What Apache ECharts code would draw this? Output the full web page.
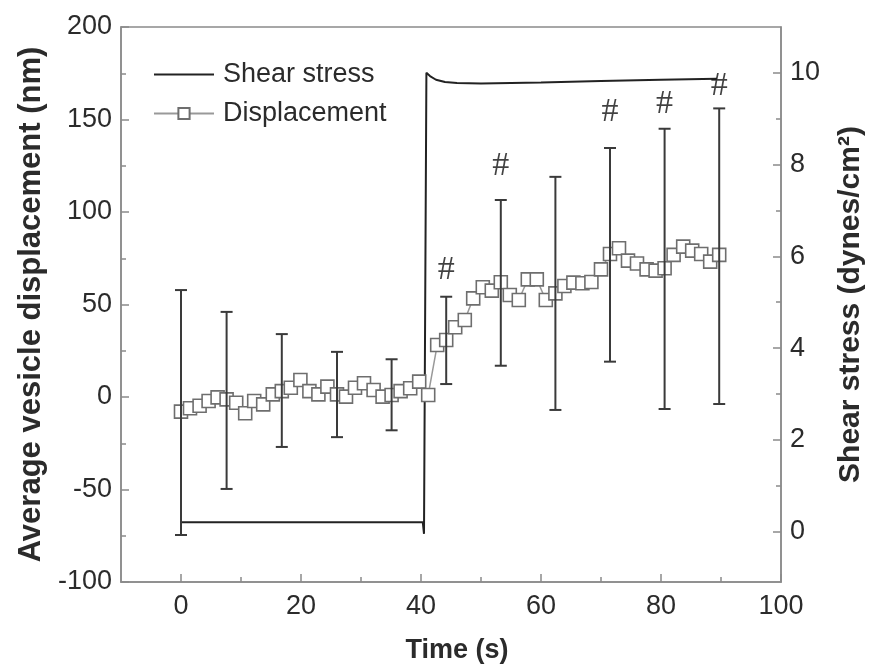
<!DOCTYPE html>
<html>
<head>
<meta charset="utf-8">
<script src="https://cdn.jsdelivr.net/npm/echarts@6/dist/echarts.min.js"></script>
<style>html,body{margin:0;padding:0;background:#fff;}#chart{width:872px;height:671px;}</style>
</head>
<body>
<div id="chart"></div>
<script>
// ---- data ----
const dispTimes = [0, 1.5, 3.1, 4.6, 6.1, 7.6, 9.2, 10.7, 12.2, 13.7, 15.3, 16.8, 18.3, 19.9, 21.4, 22.9, 24.4, 26.0, 27.5, 29.0, 30.5, 32.1, 33.6, 35.1, 36.6, 38.2, 39.7, 41.2,
  42.7, 44.2, 45.7, 47.3, 48.7, 50.3, 51.8, 53.3, 54.8, 56.3, 57.8, 59.3, 60.8, 62.4, 63.9, 65.4, 66.9, 68.4, 70.0, 71.5, 73.0, 74.5, 76.0, 77.6, 79.1, 80.6, 82.1, 83.7, 85.2, 86.7, 88.2, 89.7];
const displacement = [-7.9, -6.1, -4.7, -2.2, -0.2, -1.3, -3.1, -8.8, -2.2, -4.0, 1.4, 3.2, 5.0, 9.2, 3.2, 1.4, 5.6, 1.4, 0.2, 5.0, 7.4, 3.8, 0.2, 1.1, 3.2, 4.7, 8.3, 1.1,
  28.1, 30.8, 37.7, 41.6, 53.3, 59.3, 57.5, 62.0, 55.1, 52.4, 63.6, 63.6, 52.4, 56.0, 60.0, 61.8, 61.5, 62.2, 69.0, 77.3, 80.4, 73.7, 72.2, 69.0, 68.3, 69.6, 76.8, 81.3, 79.1, 77.3, 73.2, 76.8];
const errTimes = [0, 7.6, 16.8, 26.0, 35.1, 44.2, 53.3, 62.4, 71.5, 80.6, 89.7];
const errHigh = [57.8, 46, 34, 24.4, 20.4, 54.2, 106.5, 119, 134.6, 145, 156];
const errLow = [-74.6, -49.7, -27, -21.7, -18, 7, 16.9, -7, 19.1, -6.5, -3.8];
const stressTimes = [0, 40.3, 40.5, 40.9, 41.5, 42.5, 44, 46, 50, 60, 70, 80, 89.3];
const stressValues = [0.2, 0.2, -0.05, 10.0, 9.93, 9.85, 9.8, 9.78, 9.77, 9.79, 9.82, 9.85, 9.87];
const hashTimes = [44.2, 53.3, 71.5, 80.6, 89.7];
const hashLevels = [68.6, 124.9, 154, 158.4, 168.1];
const xMajorTicks = [0, 20, 40, 60, 80, 100];
const xMinorTicks = [10, 30, 50, 70, 90];
const rightMajorTicks = [0, 2, 4, 6, 8, 10];
const rightMinorTicks = [1, 3, 5, 7, 9];

// ---- chart ----
const FONT = 'Arial, "Liberation Sans", sans-serif';
const AXIS_COLOR = '#8a8a8a';
const TEXT_COLOR = '#2b2b2b';
const chart = echarts.init(document.getElementById('chart'));

const dispData = dispTimes.map((t, i) => [t, displacement[i]]);
const errData = errTimes.map((t, i) => [t, errLow[i], errHigh[i]]);
const stressData = stressTimes.map((t, i) => [t, stressValues[i]]);
const hashData = hashTimes.map((t, i) => [t, hashLevels[i]]);

const option = {
  backgroundColor: '#fff',
  animation: false,
  grid: { left: 121, right: 91, top: 27, bottom: 89, show: true, borderColor: AXIS_COLOR, borderWidth: 1.5, outerBoundsMode: 'none', containLabel: false },
  legend: {
    orient: 'vertical', left: 153, top: 60, padding: 0,
    itemWidth: 60, itemHeight: 14, itemGap: 10,
    textStyle: { fontFamily: FONT, fontSize: 27, color: TEXT_COLOR, lineHeight: 29, padding: [0, 0, 0, 4] },
    data: [{ name: 'Shear stress', itemStyle: { opacity: 0 } }, 'Displacement']
  },
  xAxis: [{
    type: 'value', min: -10, max: 100, position: 'bottom',
    name: 'Time (s)', nameLocation: 'middle', nameGap: 55,
    nameTextStyle: { fontFamily: FONT, fontSize: 27, fontWeight: 'bold', color: TEXT_COLOR, padding: [0, 0, 0, 12] },
    axisLine: { show: true, onZero: false, lineStyle: { color: AXIS_COLOR, width: 1.5 } },
    axisTick: { show: true, inside: true, length: 8, customValues: xMajorTicks, lineStyle: { color: AXIS_COLOR, width: 1.5 } },
    axisLabel: { customValues: xMajorTicks, fontFamily: FONT, fontSize: 27, color: TEXT_COLOR, margin: 11 },
    splitLine: { show: false }
  }, {
    type: 'value', min: -10, max: 100, position: 'bottom',
    axisLine: { show: false, onZero: false },
    axisTick: { show: true, inside: true, length: 5, customValues: xMinorTicks, lineStyle: { color: AXIS_COLOR, width: 1.5 } },
    axisLabel: { show: false }, splitLine: { show: false }
  }],
  yAxis: [{
    type: 'value', min: -100, max: 200, interval: 50, position: 'left',
    name: 'Average vesicle displacement (nm)', nameLocation: 'middle', nameGap: 73,
    nameTextStyle: { fontFamily: FONT, fontSize: 31, fontWeight: 'bold', color: TEXT_COLOR },
    axisLine: { show: true, onZero: false, lineStyle: { color: AXIS_COLOR, width: 1.5 } },
    axisTick: { show: true, inside: true, length: 8, lineStyle: { color: AXIS_COLOR, width: 1.5 } },
    minorTick: { show: true, splitNumber: 2, length: 5, lineStyle: { color: AXIS_COLOR, width: 1.5 } },
    axisLabel: { fontFamily: FONT, fontSize: 27, color: TEXT_COLOR, margin: 9 },
    splitLine: { show: false }
  }, {
    type: 'value', min: -1.1, max: 11, position: 'right',
    name: 'Shear stress (dynes/cm²)', nameLocation: 'middle', nameGap: 55,
    nameTextStyle: { fontFamily: FONT, fontSize: 30, fontWeight: 'bold', color: TEXT_COLOR },
    axisLine: { show: true, onZero: false, lineStyle: { color: AXIS_COLOR, width: 1.5 } },
    axisTick: { show: true, inside: true, length: 8, customValues: rightMajorTicks, lineStyle: { color: AXIS_COLOR, width: 1.5 } },
    axisLabel: { customValues: rightMajorTicks, fontFamily: FONT, fontSize: 27, color: TEXT_COLOR, margin: 9 },
    splitLine: { show: false }
  }, {
    type: 'value', min: -1.1, max: 11, position: 'right',
    axisLine: { show: false, onZero: false },
    axisTick: { show: true, inside: true, length: 5, customValues: rightMinorTicks, lineStyle: { color: AXIS_COLOR, width: 1.5 } },
    axisLabel: { show: false }, splitLine: { show: false }
  }],
  series: [{
    name: 'Shear stress', type: 'line', yAxisIndex: 1, data: stressData,
    symbol: 'none', smooth: false,
    lineStyle: { color: '#222', width: 2 }, itemStyle: { color: '#222' }, z: 3
  }, {
    name: 'Displacement', type: 'line', yAxisIndex: 0, data: dispData,
    symbol: 'rect', symbolSize: 13,
    lineStyle: { color: '#999', width: 1.5 },
    itemStyle: { color: '#fff', borderColor: '#6e6e6e', borderWidth: 1.6 }, z: 4
  }, {
    name: 'errors', type: 'custom', yAxisIndex: 0, data: errData,
    encode: { x: 0, y: [1, 2] },
    renderItem: function (params, api) {
      const x = api.value(0), lo = api.value(1), hi = api.value(2);
      const pHi = api.coord([x, hi]);
      const pLo = api.coord([x, lo]);
      const hw = 6;
      const st = { stroke: '#3a3a3a', lineWidth: 2 };
      return { type: 'group', children: [
        { type: 'line', shape: { x1: pHi[0], y1: pHi[1], x2: pLo[0], y2: pLo[1] }, style: st },
        { type: 'line', shape: { x1: pHi[0] - hw, y1: pHi[1], x2: pHi[0] + hw, y2: pHi[1] }, style: st },
        { type: 'line', shape: { x1: pLo[0] - hw, y1: pLo[1], x2: pLo[0] + hw, y2: pLo[1] }, style: st }
      ] };
    },
    z: 5, silent: true
  }, {
    name: 'hash', type: 'scatter', yAxisIndex: 0, data: hashData,
    symbolSize: 0,
    label: { show: true, position: 'inside', formatter: '#', fontFamily: '"Liberation Serif", "Times New Roman", serif', fontSize: 34, color: '#111' },
    z: 6, silent: true
  }]
};
chart.setOption(option);
</script>
</body>
</html>
